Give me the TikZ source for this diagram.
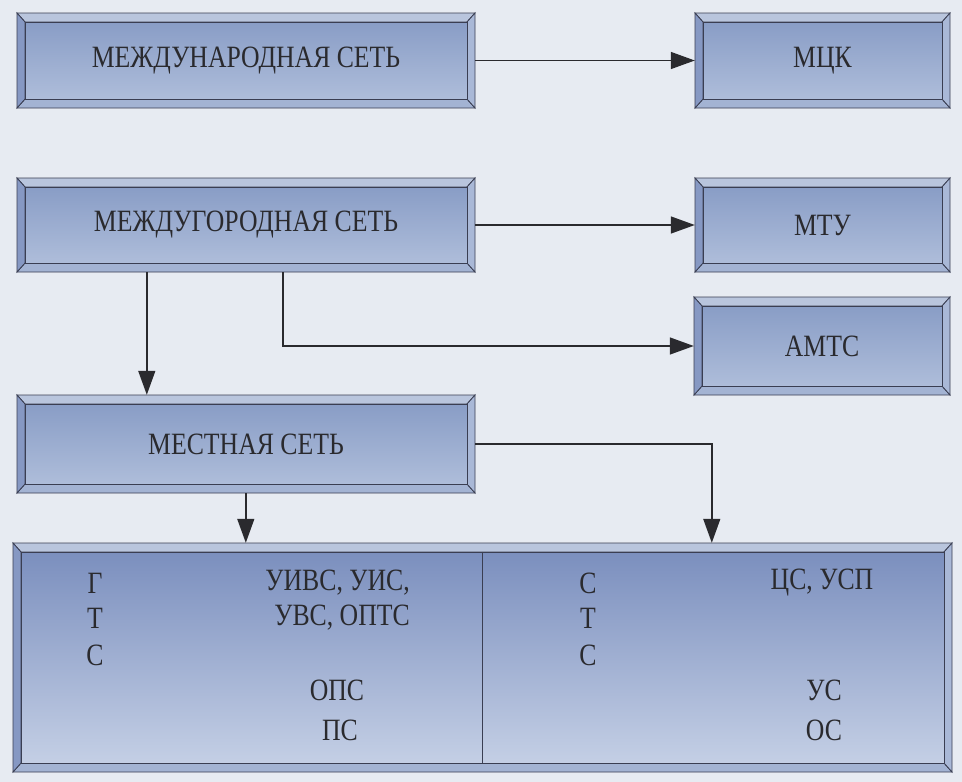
\documentclass[tikz,border=0pt]{standalone}
\usepackage{fontspec}
\setmainfont{Liberation Serif}[FakeStretch=0.83]
\usetikzlibrary{arrows.meta}
\definecolor{bg}{HTML}{E7EBF2}
\definecolor{bevtop}{HTML}{B9C5DD}
\definecolor{bevbot}{HTML}{A3B3D3}
\definecolor{bevleft}{HTML}{8698C3}
\definecolor{bevright}{HTML}{A9B8D7}
\definecolor{intop}{HTML}{899DC6}
\definecolor{inbot}{HTML}{AEBDDA}
\definecolor{bigtop}{HTML}{7B8FBE}
\definecolor{bigbot}{HTML}{C4CFE5}
\definecolor{edge}{HTML}{3A3E52}
\definecolor{ink}{HTML}{2A2A2E}
\tikzset{
  boxnode/.style={inner sep=0pt, text=ink, font=\fontsize{31}{34}\selectfont},
  txt/.style={inner sep=0pt, text=ink, font=\fontsize{31}{34}\selectfont},
  arr/.style={draw=ink, line width=1.4pt, -{Triangle[length=24pt,width=17pt]}},
  bev/.style={draw=edge, line width=0.8pt, line join=miter},
}
% name, x1, y1, x2, y2, text, inner top colour, inner bottom colour
\newcommand\bevbox[8]{%
  \path[bev, fill=bevtop] (#2,#3) -- (#4,#3) -- (#4-8,#3+9) -- (#2+8,#3+9) -- cycle;
  \path[bev, fill=bevbot] (#2,#5) -- (#4,#5) -- (#4-8,#5-9) -- (#2+8,#5-9) -- cycle;
  \path[bev, fill=bevleft] (#2,#3) -- (#2+8,#3+9) -- (#2+8,#5-9) -- (#2,#5) -- cycle;
  \path[bev, fill=bevright] (#4,#3) -- (#4-8,#3+9) -- (#4-8,#5-9) -- (#4,#5) -- cycle;
  \path[bev, top color=#7, bottom color=#8] (#2+8,#3+9) rectangle (#4-8,#5-9);
  \node[boxnode, minimum width={(#4-#2)*1pt}, minimum height={(#5-#3)*1pt}] (#1) at ({(#2+#4)/2},{(#3+#5)/2}) {#6};
}
\begin{document}
\begin{tikzpicture}[x=1pt,y=-1pt]
\fill[bg] (0,0) rectangle (962,782);
\useasboundingbox (0,0) rectangle (962,782);
\bevbox{intl}{17}{13}{475}{108}{МЕЖДУНАРОДНАЯ СЕТЬ}{intop}{inbot}
\bevbox{mck}{695}{13}{950}{108}{МЦК}{intop}{inbot}
\bevbox{ld}{17}{178}{475}{272}{МЕЖДУГОРОДНАЯ СЕТЬ}{intop}{inbot}
\bevbox{mtu}{695}{178}{950}{272}{МТУ}{intop}{inbot}
\bevbox{amts}{694}{297}{950}{395}{АМТС}{intop}{inbot}
\bevbox{loc}{17}{395}{475}{493}{МЕСТНАЯ СЕТЬ}{intop}{inbot}
\bevbox{bot}{13}{543}{952}{772}{}{bigtop}{bigbot}
% divider
\draw[edge, line width=0.8pt] ([xshift=470pt,yshift=-9pt]bot.north west) coordinate (dv) -- ([xshift=470pt,yshift=9pt]bot.south west);
% connectors
\draw[arr] (intl.east) -- (mck.west);
\draw[arr] (ld.east) -- (mtu.west);
\draw[arr] ([xshift=130pt]ld.south west) -- ([xshift=130pt]loc.north west);
\draw[arr] ([xshift=266pt]ld.south west) |- (amts.west);
\draw[arr] ([xshift=229pt]loc.south west) -- ([xshift=233pt]bot.north west);
\draw[arr] (loc.east) -| ([xshift=699pt]bot.north west);
% bottom texts
\node[txt] (g1) at (95,583) {Г};
\node[txt] (g2) at (95,618) {Т};
\node[txt] (g3) at (95,655) {С};
\node[txt, anchor=east] (l1) at (410,583) {УИВС, УИС,};
\node[txt, anchor=east] (l2) at (410,618) {УВС, ОПТС};
\node[txt] (l3) at (337,690) {ОПС};
\node[txt] (l4) at (340,730) {ПС};
\node[txt] (s1) at (588,583) {С};
\node[txt] (s2) at (588,618) {Т};
\node[txt] (s3) at (588,655) {С};
\node[txt] (r1) at (822,583) {ЦС, УСП};
\node[txt] (r2) at (824,690) {УС};
\node[txt] (r3) at (824,730) {ОС};
\end{tikzpicture}
\end{document}
